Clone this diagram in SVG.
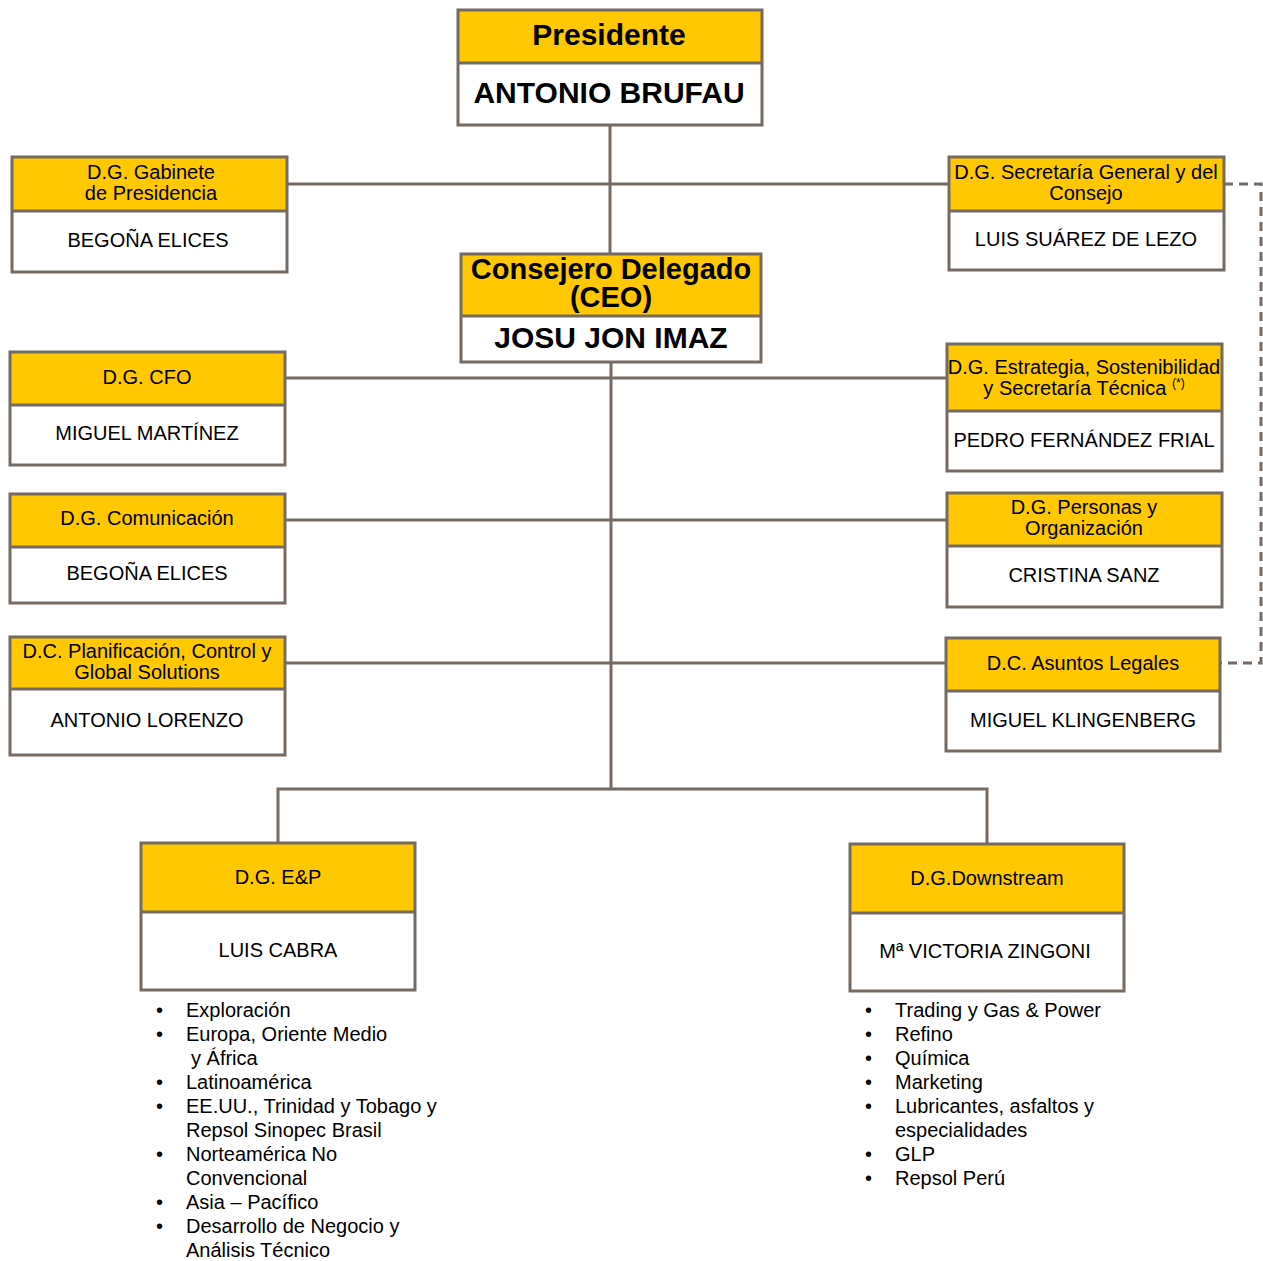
<svg xmlns="http://www.w3.org/2000/svg" width="1263" height="1261" viewBox="0 0 1263 1261">
<style>
.hd{fill:#FFC800}
.bd{fill:#FFFFFF}
.fr{fill:none;stroke:#766B62;stroke-width:3}
.dv{stroke:#766B62;stroke-width:3}
.cn{fill:none;stroke:#766B62;stroke-width:3}
.ds{fill:none;stroke:#766B62;stroke-width:3;stroke-dasharray:9 6}
text{font-family:"Liberation Sans",Arial,sans-serif;fill:#000;text-anchor:middle}
.b{font-weight:bold;font-size:30px}
.bc{font-weight:bold;font-size:29px}
.t{font-size:20px}
.l{font-size:20px;text-anchor:start}
.sup{font-size:12px}
</style>
<rect width="1263" height="1261" fill="#FFFFFF"/>
<g id="connectors">
<path class="cn" d="M610 126 V253"/>
<path class="cn" d="M287 184 H948"/>
<path class="cn" d="M611 363 V789"/>
<path class="cn" d="M285 378 H947"/>
<path class="cn" d="M285 520 H947"/>
<path class="cn" d="M285 663 H946"/>
<path class="cn" d="M278 842 V789 H987 V843"/>
<path class="ds" d="M1224 184 H1261 V663 H1220"/>
</g>
<g id="presidente">
<rect class="hd" x="458" y="10" width="304" height="53"/>
<rect class="bd" x="458" y="63" width="304" height="62"/>
<line class="dv" x1="458" y1="63" x2="762" y2="63"/>
<rect class="fr" x="458" y="10" width="304" height="115"/>
<text class="b" x="609" y="45">Presidente</text>
<text class="b" x="609" y="103">ANTONIO BRUFAU</text>
</g>
<g id="gabinete">
<rect class="hd" x="12" y="157" width="275" height="54"/>
<rect class="bd" x="12" y="211" width="275" height="61"/>
<line class="dv" x1="12" y1="211" x2="287" y2="211"/>
<rect class="fr" x="12" y="157" width="275" height="115"/>
<text class="t" x="151" y="179">D.G. Gabinete</text>
<text class="t" x="151" y="200">de Presidencia</text>
<text class="t" x="148" y="247">BEGOÑA ELICES</text>
</g>
<g id="secretaria">
<rect class="hd" x="949" y="157" width="275" height="54"/>
<rect class="bd" x="949" y="211" width="275" height="59"/>
<line class="dv" x1="949" y1="211" x2="1224" y2="211"/>
<rect class="fr" x="949" y="157" width="275" height="113"/>
<text class="t" x="1086" y="179">D.G. Secretaría General y del</text>
<text class="t" x="1086" y="200">Consejo</text>
<text class="t" x="1086" y="246">LUIS SUÁREZ DE LEZO</text>
</g>
<g id="ceo">
<rect class="hd" x="461" y="254" width="300" height="62"/>
<rect class="bd" x="461" y="316" width="300" height="46"/>
<line class="dv" x1="461" y1="316" x2="761" y2="316"/>
<rect class="fr" x="461" y="254" width="300" height="108"/>
<text class="bc" x="611" y="279">Consejero Delegado</text>
<text class="bc" x="611" y="307">(CEO)</text>
<text class="b" x="611" y="348">JOSU JON IMAZ</text>
</g>
<g id="cfo">
<rect class="hd" x="10" y="352" width="275" height="53"/>
<rect class="bd" x="10" y="405" width="275" height="60"/>
<line class="dv" x1="10" y1="405" x2="285" y2="405"/>
<rect class="fr" x="10" y="352" width="275" height="113"/>
<text class="t" x="147" y="384">D.G. CFO</text>
<text class="t" x="147" y="440">MIGUEL MARTÍNEZ</text>
</g>
<g id="estrategia">
<rect class="hd" x="947" y="344" width="275" height="67"/>
<rect class="bd" x="947" y="411" width="275" height="60"/>
<line class="dv" x1="947" y1="411" x2="1222" y2="411"/>
<rect class="fr" x="947" y="344" width="275" height="127"/>
<text class="t" x="1084" y="374">D.G. Estrategia, Sostenibilidad</text>
<text class="t" x="1084" y="395">y Secretaría Técnica <tspan class="sup" dy="-8">(*)</tspan></text>
<text class="t" x="1084" y="447">PEDRO FERNÁNDEZ FRIAL</text>
</g>
<g id="comunicacion">
<rect class="hd" x="10" y="494" width="275" height="53"/>
<rect class="bd" x="10" y="547" width="275" height="56"/>
<line class="dv" x1="10" y1="547" x2="285" y2="547"/>
<rect class="fr" x="10" y="494" width="275" height="109"/>
<text class="t" x="147" y="525">D.G. Comunicación</text>
<text class="t" x="147" y="580">BEGOÑA ELICES</text>
</g>
<g id="personas">
<rect class="hd" x="947" y="493" width="275" height="53"/>
<rect class="bd" x="947" y="546" width="275" height="61"/>
<line class="dv" x1="947" y1="546" x2="1222" y2="546"/>
<rect class="fr" x="947" y="493" width="275" height="114"/>
<text class="t" x="1084" y="514">D.G. Personas y</text>
<text class="t" x="1084" y="535">Organización</text>
<text class="t" x="1084" y="582">CRISTINA SANZ</text>
</g>
<g id="planificacion">
<rect class="hd" x="10" y="637" width="275" height="52"/>
<rect class="bd" x="10" y="689" width="275" height="66"/>
<line class="dv" x1="10" y1="689" x2="285" y2="689"/>
<rect class="fr" x="10" y="637" width="275" height="118"/>
<text class="t" x="147" y="658">D.C. Planificación, Control y</text>
<text class="t" x="147" y="679">Global Solutions</text>
<text class="t" x="147" y="727">ANTONIO LORENZO</text>
</g>
<g id="legales">
<rect class="hd" x="946" y="638" width="274" height="53"/>
<rect class="bd" x="946" y="691" width="274" height="60"/>
<line class="dv" x1="946" y1="691" x2="1220" y2="691"/>
<rect class="fr" x="946" y="638" width="274" height="113"/>
<text class="t" x="1083" y="670">D.C. Asuntos Legales</text>
<text class="t" x="1083" y="727">MIGUEL KLINGENBERG</text>
</g>
<g id="ep">
<rect class="hd" x="141" y="843" width="274" height="69"/>
<rect class="bd" x="141" y="912" width="274" height="78"/>
<line class="dv" x1="141" y1="912" x2="415" y2="912"/>
<rect class="fr" x="141" y="843" width="274" height="147"/>
<text class="t" x="278" y="884">D.G. E&amp;P</text>
<text class="t" x="278" y="957">LUIS CABRA</text>
</g>
<g id="downstream">
<rect class="hd" x="850" y="844" width="274" height="69"/>
<rect class="bd" x="850" y="913" width="274" height="78"/>
<line class="dv" x1="850" y1="913" x2="1124" y2="913"/>
<rect class="fr" x="850" y="844" width="274" height="147"/>
<text class="t" x="987" y="885">D.G.Downstream</text>
<text class="t" x="985" y="958">Mª VICTORIA ZINGONI</text>
</g>
<g id="ep-list">
<text class="l" x="156" y="1017">•</text><text class="l" x="186" y="1017">Exploración</text>
<text class="l" x="156" y="1041">•</text><text class="l" x="186" y="1041">Europa, Oriente Medio</text>
<text class="l" x="191" y="1065">y África</text>
<text class="l" x="156" y="1089">•</text><text class="l" x="186" y="1089">Latinoamérica</text>
<text class="l" x="156" y="1113">•</text><text class="l" x="186" y="1113">EE.UU., Trinidad y Tobago y</text>
<text class="l" x="186" y="1137">Repsol Sinopec Brasil</text>
<text class="l" x="156" y="1161">•</text><text class="l" x="186" y="1161">Norteamérica No</text>
<text class="l" x="186" y="1185">Convencional</text>
<text class="l" x="156" y="1209">•</text><text class="l" x="186" y="1209">Asia – Pacífico</text>
<text class="l" x="156" y="1233">•</text><text class="l" x="186" y="1233">Desarrollo de Negocio y</text>
<text class="l" x="186" y="1257">Análisis Técnico</text>
</g>
<g id="downstream-list">
<text class="l" x="865" y="1017">•</text><text class="l" x="895" y="1017">Trading y Gas &amp; Power</text>
<text class="l" x="865" y="1041">•</text><text class="l" x="895" y="1041">Refino</text>
<text class="l" x="865" y="1065">•</text><text class="l" x="895" y="1065">Química</text>
<text class="l" x="865" y="1089">•</text><text class="l" x="895" y="1089">Marketing</text>
<text class="l" x="865" y="1113">•</text><text class="l" x="895" y="1113">Lubricantes, asfaltos y</text>
<text class="l" x="895" y="1137">especialidades</text>
<text class="l" x="865" y="1161">•</text><text class="l" x="895" y="1161">GLP</text>
<text class="l" x="865" y="1185">•</text><text class="l" x="895" y="1185">Repsol Perú</text>
</g>
</svg>
